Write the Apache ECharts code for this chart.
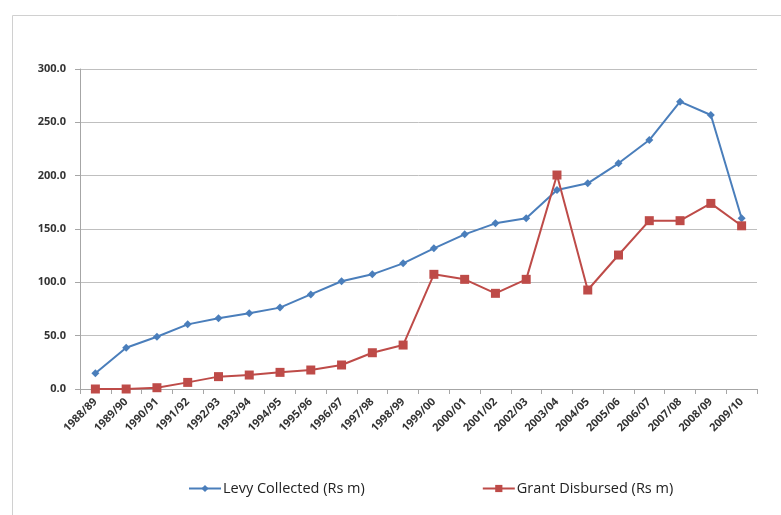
<!DOCTYPE html>
<html><head><meta charset="utf-8">
<script src="https://cdn.jsdelivr.net/npm/echarts@6/dist/echarts.min.js"></script>
<style>html,body{margin:0;padding:0;background:#fff}#c{width:781px;height:515px}</style>
</head><body><div id="c"></div>
<script>
const categories = ['1988/89','1989/90','1990/91','1991/92','1992/93','1993/94','1994/95','1995/96','1996/97','1997/98','1998/99','1999/00','2000/01','2001/02','2002/03','2003/04','2004/05','2005/06','2006/07','2007/08','2008/09','2009/10'];
const levyCollected = [14.7,38.7,49.0,60.6,66.3,71.0,76.3,88.7,101.0,107.5,117.8,131.9,145.0,155.3,160.0,186.6,192.8,211.6,233.4,269.4,256.9,160.0];
const grantDisbursed = [0.0,0.0,1.2,6.2,11.6,13.1,15.6,17.8,22.5,34.0,41.2,107.5,102.8,89.7,102.8,200.6,92.8,125.6,157.8,157.8,174.0,153.0];
const yTicks = [0,50,100,150,200,250,300];

const chart = echarts.init(document.getElementById('c'));
const font = 'Open Sans';
chart.setOption({
  animation: false,
  backgroundColor: '#fff',
  graphic: [{type:'rect', left:10, top:13, shape:{width:800, height:520}, style:{fill:'none', stroke:'#d0d0d0', lineWidth:1}}],
  grid: {left:80, right:24, top:69, bottom:126},
  legend: {
    top: 481, left: 188, padding: 0, itemGap: 117, itemWidth: 32, itemHeight: 9,
    textStyle: {fontFamily: font, fontSize: 14.5, color: '#222', padding: [0,0,0,-3]},
    data: ['Levy Collected (Rs m)', 'Grant Disbursed (Rs m)']
  },
  xAxis: {
    type: 'category', data: categories, boundaryGap: true,
    axisLine: {lineStyle: {color: '#a6a6a6'}},
    axisTick: {show: true, length: 5, lineStyle: {color: '#a6a6a6'}},
    axisLabel: {rotate: 45, interval: 0, fontFamily: font, fontSize: 11, fontWeight: 'bold', color: '#333', margin: 11}
  },
  yAxis: {
    type: 'value', min: yTicks[0], max: yTicks[yTicks.length-1], interval: 50,
    axisLine: {show: true, lineStyle: {color: '#a6a6a6'}},
    axisTick: {show: true, length: 5, lineStyle: {color: '#a6a6a6'}},
    splitLine: {lineStyle: {color: '#bfbfbf'}},
    axisLabel: {formatter: v => v.toFixed(1), fontFamily: font, fontSize: 11, fontWeight: 'bold', color: '#333', margin: 14}
  },
  series: [
    {name:'Levy Collected (Rs m)', type:'line', data: levyCollected, symbol:'diamond', symbolSize: 8,
     itemStyle:{color:'#4a7ebb'}, lineStyle:{color:'#4a7ebb', width:2}},
    {name:'Grant Disbursed (Rs m)', type:'line', data: grantDisbursed, symbol:'rect', symbolSize: 9,
     itemStyle:{color:'#be4b48'}, lineStyle:{color:'#be4b48', width:2}}
  ]
});
</script></body></html>
